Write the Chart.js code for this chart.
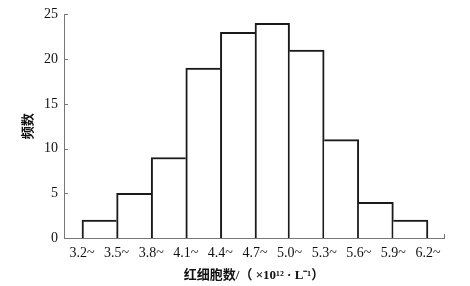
<!DOCTYPE html>
<html>
<head>
<meta charset="utf-8">
<script src="https://cdn.jsdelivr.net/npm/chart.js@4"></script>
<style>
  body { margin: 0; background: #fff; }
  #box { width: 470px; height: 286px; }
</style>
</head>
<body>
<div id="box"><canvas id="grafico"></canvas></div>
<script>
// 红细胞数分组（组下限）与频数
const edges = [3.2, 3.5, 3.8, 4.1, 4.4, 4.7, 5.0, 5.3, 5.6, 5.9, 6.2];
const binStart = [3.2, 3.5, 3.8, 4.1, 4.4, 4.7, 5.0, 5.3, 5.6, 5.9];
const counts = [2, 5, 9, 19, 23, 24, 21, 11, 4, 2];
const yTicks = [0, 5, 10, 15, 20, 25];
const binWidth = 0.3;

const serif = '"Liberation Serif", "Noto Sans CJK SC", serif';

// ticks do eixo y desenhados para dentro + tick no fim do eixo x
const axisTicks = {
    id: 'axisTicks',
    afterDraw(chart) {
        const c = chart.ctx;
        const y = chart.scales.y, x = chart.scales.x;
        c.save();
        c.strokeStyle = '#777';
        c.lineWidth = 1;
        c.beginPath();
        yTicks.forEach(v => {
            const py = Math.round(y.getPixelForValue(v)) + 0.5;
            c.moveTo(y.right, py);
            c.lineTo(y.right + 4, py);
        });
        const px = Math.round(x.right) + 0.5;
        c.moveTo(px, x.top);
        c.lineTo(px, x.top - 4);
        c.stroke();
        c.restore();
    }
};

const last = counts.length - 1;

const ctx = document.getElementById('grafico');
new Chart(ctx, {
    type: 'bar',
    data: {
        datasets: [{
            data: binStart.map((s, i) => ({ x: s + binWidth / 2, y: counts[i] })),
            backgroundColor: '#ffffff',
            borderColor: '#1a1a1a',
            // borda compartilhada desenhada só pela barra mais alta (2px)
            borderWidth: c => {
                const i = c.dataIndex;
                return {
                    top: 2,
                    bottom: 0,
                    left: (i === 0 || counts[i] >= counts[i - 1]) ? 2 : 0,
                    right: (i === last || counts[i] > counts[i + 1]) ? 2 : 0
                };
            },
            borderSkipped: 'start',
            barPercentage: 1,
            categoryPercentage: 1
        }]
    },
    options: {
        responsive: true,
        maintainAspectRatio: false,
        animation: false,
        layout: { padding: { top: 10, right: 26, left: 0, bottom: 0 } },
        plugins: { legend: { display: false }, tooltip: { enabled: false } },
        scales: {
            x: {
                type: 'linear',
                offset: false,
                min: 3.044,
                max: 6.339,
                afterFit: s => { s.height = 48; },
                afterBuildTicks: s => { s.ticks = edges.map(v => ({ value: v })); },
                grid: { display: false, drawTicks: false, offset: false },
                border: { color: '#777', width: 1 },
                ticks: {
                    autoSkip: false,
                    maxRotation: 0,
                    padding: 7,
                    color: '#111',
                    font: { family: serif, size: 14 },
                    callback: v => v.toFixed(1) + '~'
                },
                title: {
                    display: true,
                    text: '红细胞数/（ ×10¹² · L⁻¹）',
                    color: '#111',
                    font: { family: serif, size: 13, weight: 'bold' },
                    padding: { top: 0, bottom: 3 }
                }
            },
            y: {
                min: 0,
                max: 25,
                afterFit: s => { s.width = 64; },
                afterBuildTicks: s => { s.ticks = yTicks.map(v => ({ value: v })); },
                grid: { display: false, drawTicks: false },
                border: { color: '#777', width: 1 },
                ticks: {
                    padding: 6,
                    color: '#111',
                    font: { family: serif, size: 14 }
                },
                title: {
                    display: true,
                    text: '频数',
                    color: '#111',
                    font: { family: serif, size: 13, weight: 'bold' },
                    padding: { top: 21, bottom: 0 }
                }
            }
        }
    },
    plugins: [axisTicks]
});
</script>
</body>
</html>
